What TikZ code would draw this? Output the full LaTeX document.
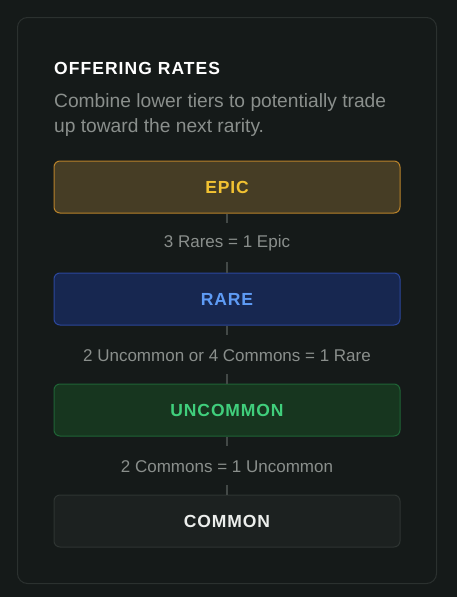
\documentclass[tikz,border=0pt]{standalone}
\usepackage{fontspec}
\setmainfont{Liberation Sans}
\newfontfamily\titlefont[LetterSpace=6]{Liberation Sans}
\newfontfamily\tierfont[LetterSpace=5]{Liberation Sans}
\definecolor{bg}{HTML}{151A19}
\definecolor{panelborder}{HTML}{2B312F}
\definecolor{subtext}{HTML}{8A8F8C}
\definecolor{linkline}{HTML}{434947}
\definecolor{epicfill}{HTML}{463D25}
\definecolor{epicdraw}{HTML}{B8822A}
\definecolor{epictext}{HTML}{F2C232}
\definecolor{rarefill}{HTML}{172750}
\definecolor{raredraw}{HTML}{2B479C}
\definecolor{raretext}{HTML}{5E9BF5}
\definecolor{uncfill}{HTML}{17361F}
\definecolor{uncdraw}{HTML}{1F6436}
\definecolor{unctext}{HTML}{40CF7C}
\definecolor{comfill}{HTML}{1C2120}
\definecolor{comdraw}{HTML}{2E3432}
\definecolor{comtext}{HTML}{ECEEEC}
\tikzset{
  tier/.style={draw, line width=1pt, rounded corners=6pt, minimum width=346pt, minimum height=52pt, inner sep=0pt, font=\tierfont\fontsize{17.5}{20}\selectfont\bfseries},
  ratelabel/.style={text=subtext, font=\fontsize{17}{19}\selectfont, inner sep=0pt},
  link/.style={draw=linkline, line width=2.6pt}
}
\begin{document}
\begin{tikzpicture}[x=1pt,y=-1pt]
\useasboundingbox[fill=bg] (0,0) rectangle (457,597);
\draw[panelborder, line width=1pt, rounded corners=10pt] (17.5,17.5) rectangle (436.5,583.5);
\node[anchor=base west, inner sep=0pt, text=white, font=\titlefont\fontsize{17.5}{20}\selectfont\bfseries] (title) at (54,74.5) {OFFERING RATES};
\node[anchor=base west, inner sep=0pt, text=subtext, font=\fontsize{19.2}{25}\selectfont, align=left] (sub) at (54,132) {Combine lower tiers to potentially trade\\up toward the next rarity.};
\node[tier, fill=epicfill, draw=epicdraw, text=epictext] (epic) at (227,187) {EPIC};
\node[tier, fill=rarefill, draw=raredraw, text=raretext] (rare) at (227,299) {RARE};
\node[tier, fill=uncfill, draw=uncdraw, text=unctext] (unc) at (227,410) {UNCOMMON};
\node[tier, fill=comfill, draw=comdraw, text=comtext] (com) at (227,521) {COMMON};
\node[ratelabel] (l1) at (227,243.5) {3 Rares = 1 Epic};
\node[ratelabel] (l2) at (227,355.5) {2 Uncommon or 4 Commons = 1 Rare};
\node[ratelabel] (l3) at (227,466.5) {2 Commons = 1 Uncommon};
\coordinate (a1) at (227,223); \coordinate (b1) at (227,262);
\coordinate (a2) at (227,335); \coordinate (b2) at (227,374);
\coordinate (a3) at (227,446); \coordinate (b3) at (227,485);
\draw[link] (epic.south) -- (a1);
\draw[link] (b1) -- (rare.north);
\draw[link] (rare.south) -- (a2);
\draw[link] (b2) -- (unc.north);
\draw[link] (unc.south) -- (a3);
\draw[link] (b3) -- (com.north);
\end{tikzpicture}
\end{document}
